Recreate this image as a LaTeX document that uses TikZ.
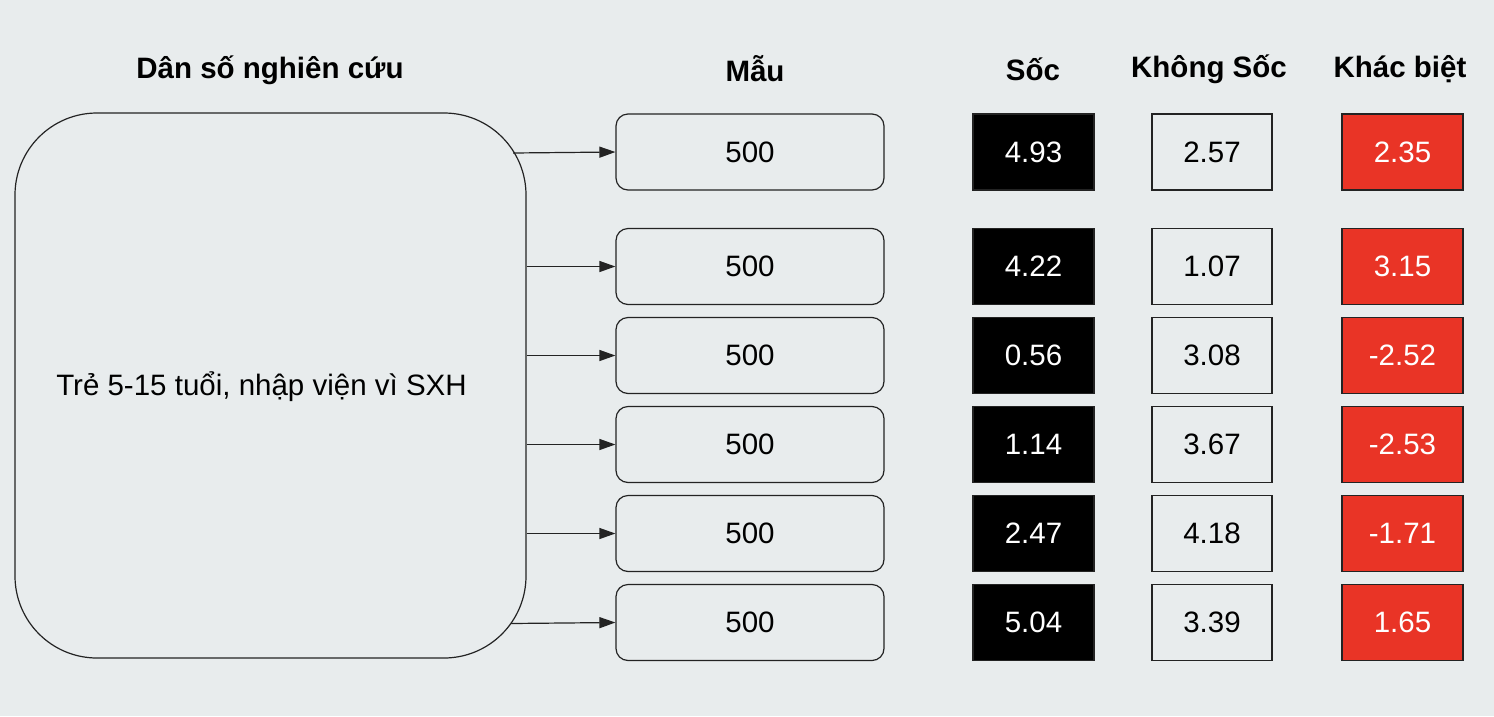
\documentclass[tikz,border=0pt]{standalone}
\usepackage{fontspec}
\setmainfont{Liberation Sans}
\usetikzlibrary{arrows.meta}
\definecolor{bggray}{RGB}{232,236,237}
\definecolor{diffred}{RGB}{233,52,38}
\definecolor{edge}{RGB}{35,35,35}
\begin{document}
\begin{tikzpicture}[x=1pt,y=-1pt,
  every node/.style={font=\fontsize{29.5}{34}\selectfont},
  head/.style={font=\fontsize{29.5}{34}\selectfont\bfseries},
  popbox/.style={draw=edge,line width=1.2pt,rounded corners=82pt,minimum width=511pt,minimum height=545pt,inner sep=0pt},
  mbox/.style={draw=edge,line width=1.2pt,rounded corners=12pt,minimum width=268pt,minimum height=76pt,inner sep=0pt},
  shockbox/.style={draw=edge,fill=black,text=white,line width=1.2pt,minimum width=121pt,minimum height=76pt,inner sep=0pt},
  noshockbox/.style={draw=edge,line width=1.2pt,minimum width=120pt,minimum height=76pt,inner sep=0pt},
  diffbox/.style={draw=edge,fill=diffred,text=white,line width=1.2pt,minimum width=121pt,minimum height=76pt,inner sep=0pt},
  arr/.style={draw=edge,line width=1.2pt,-{Triangle[length=16pt,width=11pt]}}]

\fill[bggray] (0,0) rectangle (1494,716);

% column headings
\node[head] (hpop) at (270,70) {Dân số nghiên cứu};
\node[head] (hmau) at (755,69) {Mẫu};
\node[head] (hsoc) at (1033,69) {Sốc};
\node[head] (hkhong) at (1209,69) {Không Sốc};
\node[head] (hdiff) at (1400,69) {Khác biệt};

% population
\node[popbox] (pop) at (270.5,385.5) {};
\node (poptext) at ([xshift=-9pt,yshift=-1pt]pop.center) {Trẻ 5-15 tuổi, nhập viện vì SXH};

% samples
\node[mbox] (m1) at (750,152) {500};
\node[mbox] (m2) at (750,266.5) {500};
\node[mbox] (m3) at (750,355.5) {500};
\node[mbox] (m4) at (750,444.5) {500};
\node[mbox] (m5) at (750,533.5) {500};
\node[mbox] (m6) at (750,622.5) {500};

% shock
\node[shockbox] (s1) at (1033.5,152) {4.93};
\node[shockbox] (s2) at (1033.5,266.5) {4.22};
\node[shockbox] (s3) at (1033.5,355.5) {0.56};
\node[shockbox] (s4) at (1033.5,444.5) {1.14};
\node[shockbox] (s5) at (1033.5,533.5) {2.47};
\node[shockbox] (s6) at (1033.5,622.5) {5.04};

% no shock
\node[noshockbox] (n1) at (1212,152) {2.57};
\node[noshockbox] (n2) at (1212,266.5) {1.07};
\node[noshockbox] (n3) at (1212,355.5) {3.08};
\node[noshockbox] (n4) at (1212,444.5) {3.67};
\node[noshockbox] (n5) at (1212,533.5) {4.18};
\node[noshockbox] (n6) at (1212,622.5) {3.39};

% difference
\node[diffbox] (d1) at (1402.5,152) {2.35};
\node[diffbox] (d2) at (1402.5,266.5) {3.15};
\node[diffbox] (d3) at (1402.5,355.5) {-2.52};
\node[diffbox] (d4) at (1402.5,444.5) {-2.53};
\node[diffbox] (d5) at (1402.5,533.5) {-1.71};
\node[diffbox] (d6) at (1402.5,622.5) {1.65};

% arrows
\coordinate (p1) at (513,153);
\coordinate (p6) at (511,623.5);
\draw[arr] (p1) -- (m1.west);
\draw[arr] (pop.east |- m2.west) -- (m2.west);
\draw[arr] (pop.east |- m3.west) -- (m3.west);
\draw[arr] (pop.east |- m4.west) -- (m4.west);
\draw[arr] (pop.east |- m5.west) -- (m5.west);
\draw[arr] (p6) -- (m6.west);
\end{tikzpicture}
\end{document}
